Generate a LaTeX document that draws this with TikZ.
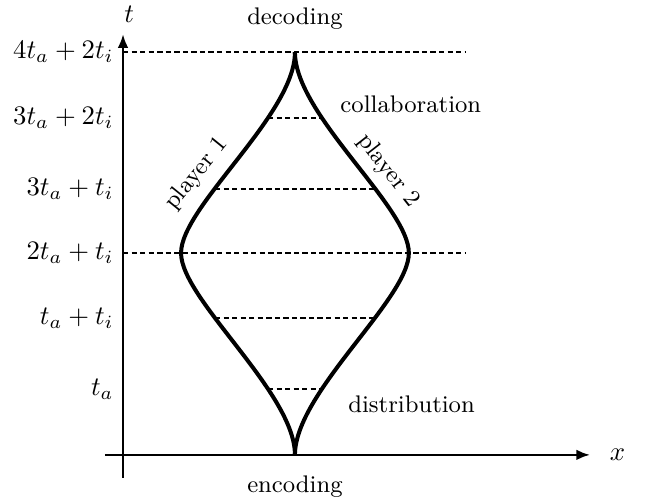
\documentclass[tikz,border=0pt]{standalone}
\usepackage{tikz}
\usetikzlibrary{arrows.meta}

\begin{document}
\begin{tikzpicture}[
  >={Latex[length=1.8mm, width=1.4mm]},
  axis/.style={->, line width=0.9pt},
  lvl/.style={dash pattern=on 2pt off 1.2pt, line width=0.55pt},
  player/.style={line width=1.5pt},
  lbl/.style={font=\small},
  every node/.style={font=\normalsize}
]
  \useasboundingbox (-1.62,-0.61) rectangle (6.90,5.99);

  % --- Ejes ---
  \coordinate (xstart) at (-0.24,0);
  \coordinate (xend)   at (6.15,0);
  \coordinate (tstart) at (0,-0.30);
  \coordinate (tend)   at (0,5.54);
  \draw[axis] (xstart) -- (xend);
  \draw[axis] (tstart) -- (tend);
  \node (xlab) at (6.51,0)    {$x$};
  \node (tlab) at (0.08,5.80) {$t$};

  % --- Niveles de tiempo ---
  \foreach \y/\lab/\nm in {0.869/{$t_a$}/lA, 1.803/{$t_a+t_i$}/lB, 2.658/{$2t_a+t_i$}/lC,
                           3.501/{$3t_a+t_i$}/lD, 4.435/{$3t_a+2t_i$}/lE, 5.303/{$4t_a+2t_i$}/lF}
    \node[left] (\nm) at (0,\y) {\lab};

  % --- Jugadores ---
  \coordinate (enc) at (2.264,0);
  \coordinate (dec) at (2.264,5.303);
  \coordinate (wl)  at (0.764,2.658);
  \coordinate (wr)  at (3.764,2.658);
  \draw[player] (enc) .. controls (2.264,0.82) and (0.764,2.05) .. (wl)
                      .. controls (0.764,3.27) and (2.264,4.48) .. (dec);
  \draw[player] (enc) .. controls (2.264,0.82) and (3.764,2.05) .. (wr)
                      .. controls (3.764,3.27) and (2.264,4.48) .. (dec);

  % --- Lineas punteadas ---
  \draw[lvl] (0,5.303) -- (4.5,5.303);
  \draw[lvl] (0,2.658) -- (4.5,2.658);
  \draw[lvl] (1.909,4.435) -- (2.619,4.435);
  \draw[lvl] (1.211,3.501) -- (3.317,3.501);
  \draw[lvl] (1.211,1.803) -- (3.317,1.803);
  \draw[lvl] (1.909,0.869) -- (2.619,0.869);

  % --- Etiquetas ---
  \node[lbl] (decoding) at (2.264,5.75)  {decoding};
  \node[lbl] (encoding) at (2.264,-0.42) {encoding};
  \node[lbl] (collab)   at (3.79,4.62)   {collaboration};
  \node[lbl] (distrib)  at (3.80,0.66)   {distribution};
  \node[lbl, rotate=51]  (p1) at (0.97,3.70) {player 1};
  \node[lbl, rotate=-52] (p2) at (3.49,3.74) {player 2};
\end{tikzpicture}
\end{document}
